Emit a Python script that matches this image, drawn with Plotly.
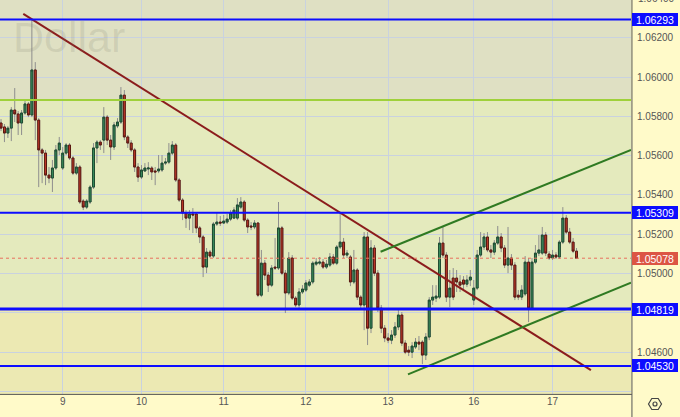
import plotly.graph_objects as go

# ---------------- data (EUR/USD hourly) ----------------
opens = [1.05766, 1.05746, 1.05715, 1.05740, 1.05832, 1.05812, 1.05766, 1.05817, 1.05863, 1.05807,
         1.06036, 1.05781, 1.05629, 1.05613, 1.05501, 1.05486, 1.05537, 1.05629, 1.05537, 1.05613,
         1.05654, 1.05588, 1.05511, 1.05542, 1.05369, 1.05338, 1.05364, 1.05440, 1.05639, 1.05669,
         1.05679, 1.05796, 1.05679, 1.05644, 1.05751, 1.05771, 1.05908, 1.05695, 1.05664, 1.05629,
         1.05542, 1.05491, 1.05522, 1.05532, 1.05537, 1.05522, 1.05522, 1.05527, 1.05562, 1.05567,
         1.05613, 1.05654, 1.05476, 1.05374, 1.05308, 1.05282, 1.05303, 1.05303, 1.05232, 1.05186,
         1.05033, 1.05109, 1.05089, 1.05252, 1.05262, 1.05257, 1.05262, 1.05277, 1.05282, 1.05282,
         1.05338, 1.05364, 1.05272, 1.05242, 1.05237, 1.05257, 1.04890, 1.05053, 1.04992, 1.04941,
         1.05033, 1.05028, 1.05232, 1.05002, 1.04901, 1.05079, 1.04875, 1.04840, 1.04906, 1.04916,
         1.04941, 1.04957, 1.05048, 1.05053, 1.05058, 1.05033, 1.05043, 1.05084, 1.05053, 1.05135,
         1.05160, 1.05094, 1.05084, 1.04957, 1.05018, 1.04880, 1.04840, 1.05186, 1.04722, 1.05130,
         1.05002, 1.04824, 1.04722, 1.04672, 1.04661, 1.04687, 1.04728, 1.04789, 1.04646, 1.04610,
         1.04600, 1.04626, 1.04651, 1.04651, 1.04585, 1.04677, 1.04865, 1.04875, 1.04880, 1.05155,
         1.05094, 1.04880, 1.04977, 1.04977, 1.04957, 1.04967, 1.04946, 1.04967, 1.04865, 1.04926,
         1.05094, 1.05135, 1.05186, 1.05120, 1.05109, 1.05155, 1.05186, 1.05130, 1.05043, 1.05079,
         1.05043, 1.04890, 1.04880, 1.04896, 1.05058, 1.04824, 1.05058, 1.05104, 1.05104, 1.05196,
         1.05099, 1.05079, 1.05094, 1.05084, 1.05160, 1.05282, 1.05211, 1.05160, 1.05114]

highs = [1.05786, 1.05761, 1.05751, 1.05847, 1.05944, 1.05827, 1.05832, 1.05883, 1.05873, 1.06290,
         1.06076, 1.05791, 1.05639, 1.05629, 1.05542, 1.05578, 1.05654, 1.05695, 1.05644, 1.05664,
         1.05664, 1.05598, 1.05562, 1.05552, 1.05379, 1.05379, 1.05450, 1.05664, 1.05679, 1.05679,
         1.05847, 1.05807, 1.05705, 1.05771, 1.05791, 1.05949, 1.05934, 1.05705, 1.05679, 1.05639,
         1.05562, 1.05552, 1.05562, 1.05567, 1.05547, 1.05542, 1.05603, 1.05603, 1.05588, 1.05664,
         1.05674, 1.05664, 1.05486, 1.05384, 1.05323, 1.05323, 1.05333, 1.05313, 1.05242, 1.05196,
         1.05130, 1.05120, 1.05262, 1.05308, 1.05293, 1.05298, 1.05303, 1.05323, 1.05338, 1.05384,
         1.05389, 1.05374, 1.05282, 1.05262, 1.05272, 1.05262, 1.05120, 1.05069, 1.05008, 1.05043,
         1.05181, 1.05364, 1.05242, 1.05018, 1.05109, 1.05094, 1.04885, 1.04926, 1.04941, 1.04967,
         1.04972, 1.05063, 1.05079, 1.05084, 1.05074, 1.05069, 1.05104, 1.05099, 1.05145, 1.05308,
         1.05181, 1.05120, 1.05094, 1.05120, 1.05028, 1.04890, 1.05211, 1.05211, 1.05170, 1.05145,
         1.05018, 1.04840, 1.04738, 1.04697, 1.04712, 1.04753, 1.04814, 1.04804, 1.04661, 1.04631,
         1.04651, 1.04672, 1.04682, 1.04661, 1.04697, 1.04880, 1.04941, 1.04941, 1.05186, 1.05237,
         1.05109, 1.05018, 1.05028, 1.05018, 1.04992, 1.04987, 1.04992, 1.05018, 1.04967, 1.05120,
         1.05211, 1.05206, 1.05211, 1.05145, 1.05170, 1.05242, 1.05206, 1.05145, 1.05237, 1.05099,
         1.05058, 1.04916, 1.04941, 1.05089, 1.05079, 1.05079, 1.05145, 1.05196, 1.05237, 1.05211,
         1.05114, 1.05120, 1.05109, 1.05170, 1.05338, 1.05298, 1.05232, 1.05181, 1.05130]

lows = [1.05725, 1.05669, 1.05690, 1.05674, 1.05771, 1.05705, 1.05705, 1.05807, 1.05796, 1.05796,
        1.05679, 1.05440, 1.05460, 1.05450, 1.05460, 1.05415, 1.05527, 1.05603, 1.05527, 1.05603,
        1.05578, 1.05501, 1.05501, 1.05354, 1.05323, 1.05328, 1.05354, 1.05430, 1.05562, 1.05629,
        1.05613, 1.05654, 1.05578, 1.05629, 1.05740, 1.05761, 1.05679, 1.05639, 1.05618, 1.05517,
        1.05466, 1.05481, 1.05517, 1.05501, 1.05476, 1.05450, 1.05511, 1.05517, 1.05552, 1.05557,
        1.05603, 1.05466, 1.05364, 1.05272, 1.05232, 1.05221, 1.05206, 1.05206, 1.05155, 1.04982,
        1.05002, 1.05079, 1.05079, 1.05242, 1.05242, 1.05252, 1.05252, 1.05267, 1.05277, 1.05272,
        1.05328, 1.05262, 1.05206, 1.05221, 1.05226, 1.04880, 1.04880, 1.04967, 1.04906, 1.04931,
        1.05018, 1.05018, 1.04992, 1.04799, 1.04890, 1.04865, 1.04829, 1.04814, 1.04896, 1.04906,
        1.04931, 1.04946, 1.05038, 1.05043, 1.05023, 1.05023, 1.05033, 1.05043, 1.05043, 1.05125,
        1.05079, 1.05079, 1.04936, 1.04946, 1.04865, 1.04824, 1.04712, 1.04636, 1.04697, 1.04987,
        1.04804, 1.04697, 1.04651, 1.04646, 1.04641, 1.04672, 1.04712, 1.04631, 1.04590, 1.04580,
        1.04570, 1.04616, 1.04610, 1.04539, 1.04560, 1.04661, 1.04840, 1.04855, 1.04870, 1.05079,
        1.04855, 1.04829, 1.04865, 1.04906, 1.04906, 1.04916, 1.04931, 1.04936, 1.04840, 1.04916,
        1.05084, 1.05120, 1.05109, 1.05079, 1.05094, 1.05145, 1.05109, 1.05028, 1.05002, 1.05018,
        1.04865, 1.04865, 1.04865, 1.04885, 1.04753, 1.04814, 1.05048, 1.05089, 1.05094, 1.05089,
        1.05069, 1.05069, 1.05074, 1.05074, 1.05150, 1.05201, 1.05150, 1.05104, 1.05074]

closes = [1.05740, 1.05715, 1.05740, 1.05832, 1.05812, 1.05766, 1.05817, 1.05863, 1.05807, 1.06036,
          1.05781, 1.05629, 1.05613, 1.05501, 1.05486, 1.05537, 1.05629, 1.05664, 1.05613, 1.05654,
          1.05588, 1.05511, 1.05542, 1.05364, 1.05338, 1.05369, 1.05440, 1.05639, 1.05669, 1.05654,
          1.05796, 1.05679, 1.05644, 1.05756, 1.05771, 1.05908, 1.05695, 1.05664, 1.05629, 1.05542,
          1.05491, 1.05527, 1.05537, 1.05537, 1.05517, 1.05517, 1.05532, 1.05562, 1.05567, 1.05613,
          1.05654, 1.05476, 1.05374, 1.05308, 1.05282, 1.05303, 1.05298, 1.05232, 1.05186, 1.05033,
          1.05109, 1.05089, 1.05252, 1.05262, 1.05257, 1.05267, 1.05277, 1.05308, 1.05323, 1.05349,
          1.05364, 1.05272, 1.05237, 1.05237, 1.05257, 1.04890, 1.05053, 1.04992, 1.04941, 1.05028,
          1.05028, 1.05232, 1.05002, 1.04901, 1.05079, 1.04875, 1.04840, 1.04906, 1.04921, 1.04952,
          1.04957, 1.05053, 1.05058, 1.05058, 1.05033, 1.05048, 1.05084, 1.05053, 1.05135, 1.05160,
          1.05094, 1.05104, 1.04957, 1.05018, 1.04880, 1.04840, 1.05186, 1.04722, 1.05130, 1.05002,
          1.04824, 1.04722, 1.04672, 1.04661, 1.04687, 1.04728, 1.04789, 1.04646, 1.04600, 1.04600,
          1.04631, 1.04651, 1.04641, 1.04585, 1.04677, 1.04865, 1.04880, 1.04885, 1.05155, 1.05094,
          1.04880, 1.04926, 1.04880, 1.04957, 1.04941, 1.04946, 1.04967, 1.04982, 1.04926, 1.05094,
          1.05135, 1.05186, 1.05120, 1.05109, 1.05155, 1.05186, 1.05130, 1.05043, 1.05079, 1.05043,
          1.04880, 1.04880, 1.04916, 1.05058, 1.04824, 1.05058, 1.05104, 1.05120, 1.05196, 1.05104,
          1.05079, 1.05094, 1.05084, 1.05160, 1.05282, 1.05211, 1.05160, 1.05114, 1.05078]

day_labels = ["9", "10", "11", "12", "13", "16", "17"]
day_start_index = [18, 41, 65, 89, 113, 138, 161]

blue_levels = [1.06293, 1.05309, 1.04819, 1.04530]
blue_level_widths = [2, 2, 3, 2]
green_level = 1.05883
last_price = 1.05078

resistance_x = [6.5, 172.2]
resistance_y = [1.06321, 1.04509]
channel_upper_x = [110.8, 183.9]
channel_upper_y = [1.05111, 1.05629]
channel_lower_x = [118.8, 183.9]
channel_lower_y = [1.04487, 1.04954]

y_tick_values = [1.044, 1.046, 1.048, 1.050, 1.052, 1.054, 1.056, 1.058, 1.060, 1.062]
y_tick_text = ["", "1.04600", "", "1.05000", "1.05200", "1.05400", "1.05600", "1.05800", "1.06000", "1.06200"]
top_tick_value = 1.064

x_range = [-0.3, 183.9]
y_range = [1.04387, 1.06392]

# ---------------- styling ----------------
FONT = "Liberation Sans"
GREEN_FILL, GREEN_LINE = "#3b8f5e", "#1d4a30"
RED_FILL, RED_LINE = "#c43a29", "#5a1810"
WICK = "#8e8e8e"
BAND_TOP = "#dfe0c3"
BAND_MID = "#e4eabd"
BAND_BOT = "#ece9b3"
AXIS_BG = "#fffac9"
GRID = "#c9d2df"
BLUE = "#0d0dff"

n = len(opens)
xs = list(range(n))
body_hi = [max(o, c) for o, c in zip(opens, closes)]
body_lo = [min(o, c) for o, c in zip(opens, closes)]

fig = go.Figure()

# wicks (grey)
fig.add_trace(go.Candlestick(
    x=xs, open=opens, high=highs, low=lows, close=closes,
    increasing=dict(line=dict(color=WICK, width=1), fillcolor=WICK),
    decreasing=dict(line=dict(color=WICK, width=1), fillcolor=WICK),
    whiskerwidth=0, hoverinfo="skip", showlegend=False))

# bodies
fig.add_trace(go.Candlestick(
    x=xs, open=opens, high=body_hi, low=body_lo, close=closes,
    increasing=dict(line=dict(color=GREEN_LINE, width=1), fillcolor=GREEN_FILL),
    decreasing=dict(line=dict(color=RED_LINE, width=1), fillcolor=RED_FILL),
    whiskerwidth=0, hoverinfo="skip", showlegend=False))

# trend lines
fig.add_trace(go.Scatter(x=resistance_x, y=resistance_y, mode="lines",
                         line=dict(color="#8b1c1c", width=2), showlegend=False, hoverinfo="skip"))
fig.add_trace(go.Scatter(x=channel_upper_x, y=channel_upper_y, mode="lines",
                         line=dict(color="#2f7a22", width=2), showlegend=False, hoverinfo="skip"))
fig.add_trace(go.Scatter(x=channel_lower_x, y=channel_lower_y, mode="lines",
                         line=dict(color="#2f7a22", width=2), showlegend=False, hoverinfo="skip"))

shapes = []
# background bands
shapes.append(dict(type="rect", xref="paper", yref="y", x0=0, x1=1, y0=green_level, y1=y_range[1] + 0.01,
                   fillcolor=BAND_TOP, line=dict(width=0), layer="below"))
shapes.append(dict(type="rect", xref="paper", yref="y", x0=0, x1=1, y0=y_range[0] - 0.01, y1=blue_levels[2],
                   fillcolor=BAND_BOT, line=dict(width=0), layer="below"))
# horizontal levels
shapes.append(dict(type="line", xref="paper", yref="y", x0=0, x1=1, y0=green_level, y1=green_level,
                   line=dict(color="#9fd13a", width=2), layer="above"))
for lv, w in zip(blue_levels, blue_level_widths):
    shapes.append(dict(type="line", xref="paper", yref="y", x0=0, x1=1, y0=lv, y1=lv,
                       line=dict(color=BLUE, width=w), layer="above"))
shapes.append(dict(type="line", xref="paper", yref="y", x0=0, x1=1, y0=last_price, y1=last_price,
                   line=dict(color="#e8705e", width=1, dash="dot"), layer="above"))
# axis separators
shapes.append(dict(type="line", xref="paper", yref="paper", x0=1.0015, x1=1.0015, y0=-0.07, y1=1,
                   line=dict(color="#555555", width=1)))
shapes.append(dict(type="line", xref="paper", yref="paper", x0=0, x1=1.0015, y0=-0.001, y1=-0.001,
                   line=dict(color="#555555", width=1)))
# settings icon (hexagon + ring) bottom-right
hx, hy = 655 / 631, -10 / 394
shapes.append(dict(type="path", xref="paper", yref="paper", xsizemode="pixel", ysizemode="pixel",
                   xanchor=hx, yanchor=hy,
                   path="M -6.5 0 L -3.2 5.5 L 3.2 5.5 L 6.5 0 L 3.2 -5.5 L -3.2 -5.5 Z",
                   line=dict(color="#444444", width=1.2)))
shapes.append(dict(type="circle", xref="paper", yref="paper", xsizemode="pixel", ysizemode="pixel",
                   xanchor=hx, yanchor=hy, x0=-2, x1=2, y0=-2, y1=2,
                   line=dict(color="#444444", width=1.2)))

annotations = []
for lv in blue_levels:
    annotations.append(dict(x=1, xref="paper", xanchor="left", xshift=1, y=lv, yref="y",
                            text=f"{lv:.5f}", showarrow=False, bgcolor=BLUE,
                            font=dict(family=FONT, size=10.5, color="white"),
                            width=44, height=11, borderpad=1, borderwidth=0, align="center"))
annotations.append(dict(x=1, xref="paper", xanchor="left", xshift=1, y=last_price, yref="y",
                        text=f"{last_price:.5f}", showarrow=False, bgcolor="#dc5544",
                        font=dict(family=FONT, size=10.5, color="white"),
                        width=44, height=11, borderpad=1, borderwidth=0, align="center"))
top_frac = (top_tick_value - y_range[0]) / (y_range[1] - y_range[0])
annotations.append(dict(x=1, xref="paper", xanchor="left", xshift=5, y=top_frac, yref="paper",
                        yanchor="middle", text="1.06400", showarrow=False,
                        font=dict(family=FONT, size=10, color="#555555")))
# watermark
annotations.append(dict(x=11 / 631, xref="paper", xanchor="left", y=1 - 37 / 394, yref="paper",
                        yanchor="middle", text="Dollar", showarrow=False,
                        font=dict(family=FONT, size=43, color="rgba(120,120,105,0.16)")))

fig.update_layout(
    width=680, height=417,
    margin=dict(l=0, r=49, t=0, b=23),
    paper_bgcolor=AXIS_BG, plot_bgcolor=BAND_MID,
    boxgap=0.2, boxmode="overlay",
    showlegend=False,
    shapes=shapes, annotations=annotations,
    font=dict(family=FONT, size=10, color="#555555"),
    xaxis=dict(range=x_range, tickmode="array", tickvals=day_start_index, ticktext=day_labels,
               showgrid=True, gridcolor=GRID, gridwidth=1, zeroline=False, showline=False,
               ticks="", tickfont=dict(family=FONT, size=10, color="#555555"),
               rangeslider=dict(visible=False), fixedrange=True),
    yaxis=dict(range=y_range, side="right", tickmode="array", tickvals=y_tick_values,
               ticktext=y_tick_text, showgrid=True, gridcolor=GRID, gridwidth=1,
               zeroline=False, showline=False, ticks="", ticklabelstandoff=5,
               tickfont=dict(family=FONT, size=10, color="#555555"), fixedrange=True),
)

fig.write_html("out.html", config={"displayModeBar": False},
               post_script="document.body.style.margin='0';document.body.style.overflow='hidden';")
